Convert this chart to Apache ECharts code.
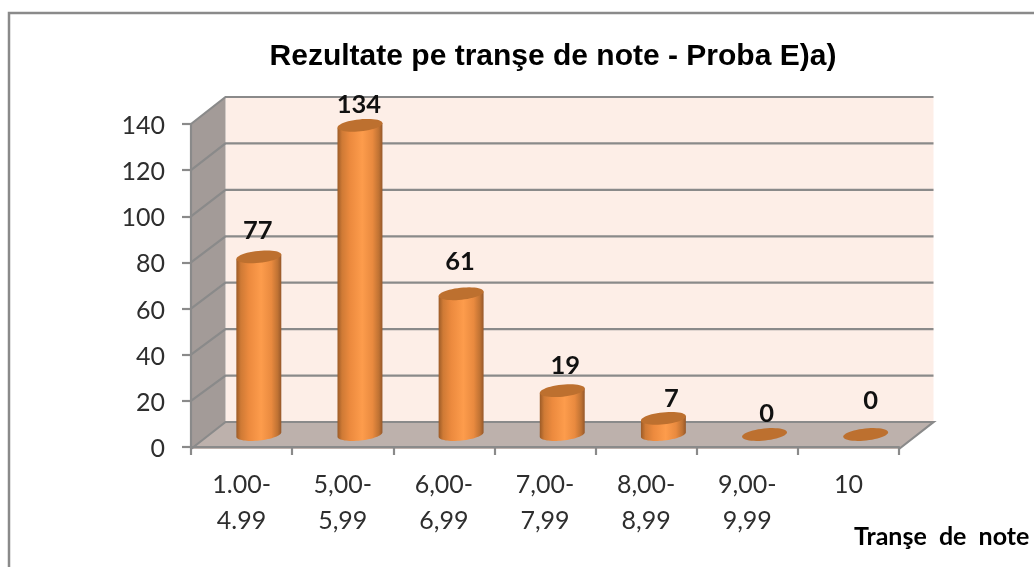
<!DOCTYPE html>
<html><head><meta charset="utf-8">
<style>html,body{margin:0;padding:0;background:#fff;overflow:hidden}#c{width:1034px;height:567px}</style>
<script src="https://cdn.jsdelivr.net/npm/echarts@6/dist/echarts.min.js"></script>
</head><body><div id="c"></div>
<script>
const categories = ['1.00-\n4.99','5,00-\n5,99','6,00-\n6,99','7,00-\n7,99','8,00-\n8,99','9,00-\n9,99','10'];
const counts = [77,134,61,19,7,0,0];
const yTicks = [0,20,40,60,80,100,120,140];
const titleText = 'Rezultate pe tranşe de note - Proba E)a)';
const xAxisTitle = 'Tranşe de note';

// Drawing style (hand-placed label nudges of the original, in pixels)
const labelLift = [26,21,32,25,20,21,34];
const labelShift = [-1,-1,-1,3,8,2,5];
const DX = 34.5, DY = -25, BACK_STRETCH = 2;   // depth of the fake 3D box
const GREY = '#8a8a8a';
const wide = s => s.replace(/ /g, '  ');

function tilted(cx, cy, a, b, t0, t1, n) {
  const th = -6 * Math.PI / 180, pts = [];
  for (let i = 0; i <= n; i++) {
    const t = t0 + (t1 - t0) * i / n;
    const x = a * Math.cos(t), y = b * Math.sin(t);
    pts.push([cx + x * Math.cos(th) - y * Math.sin(th), cy + x * Math.sin(th) + y * Math.cos(th)]);
  }
  return pts;
}

function renderWalls(params, api) {
  const band = api.size([1, 0])[0];
  const L = api.coord([0, 0])[0] - band / 2, R = api.coord([categories.length - 1, 0])[0] + band / 2;
  const y0 = api.coord([0, 0])[1], yT = api.coord([0, 140])[1];
  const poly = (points, fill) => ({type:'polygon', shape:{points}, style:{fill, stroke:null}});
  const top = yT + DY - BACK_STRETCH;
  return {type:'group', children:[
    poly([[L+DX,top],[R+DX,top],[R+DX,y0+DY],[L+DX,y0+DY]], '#fdeee7'),
    poly([[L,yT],[L+DX,top],[L+DX,y0+DY],[L,y0+2]], '#a39b98'),
    poly([[L,y0+2],[L+DX,y0+DY],[R+DX,y0+DY],[R,y0+2]], '#bdb1ac')
  ]};
}

function renderGrid(params, api) {
  const v = api.value(0);
  const band = api.size([1, 0])[0];
  const L = api.coord([0, 0])[0] - band / 2, R = api.coord([categories.length - 1, 0])[0] + band / 2;
  const y = api.coord([0, v])[1];
  const back = y + DY - BACK_STRETCH * v / 140;
  const st = {stroke:GREY, lineWidth:2.2, lineJoin:'miter'};
  const yy = v === 0 ? y + 2 : y;
  return {type:'polyline', shape:{points: v === 0 ? [[L,yy],[L+DX,back],[R+DX,back],[R,yy]] : [[L,yy],[L+DX,back],[R+DX,back]]}, style:{fill:null, ...st}};
}

function renderBars(params, api) {
  const i = api.value(0), v = api.value(1);
  const p = api.coord([i, v]), b = api.coord([i, 0]);
  const cx = p[0] + DX / 2, yTop = p[1] + DY / 2, yBot = b[1] + DY / 2;
  const a = 22.6, e = 6;
  const top = tilted(cx, yTop, a, e, 0, 2 * Math.PI, 48);
  const kids = [];
  if (v > 0) {
    const low = tilted(cx, yBot, a, e, 0, Math.PI, 32);
    const up = tilted(cx, yTop, a, e, Math.PI, 0, 1);
    kids.push({type:'polygon', shape:{points: low.concat(up)}, style:{
      stroke:null,
      fill:{type:'linear',x:0,y:0,x2:1,y2:0,colorStops:[
        {offset:0,color:'#9c5b27'},{offset:.1,color:'#cf7a35'},{offset:.28,color:'#ec8a3e'},
        {offset:.55,color:'#fd9c4c'},{offset:.78,color:'#e98a3f'},{offset:.92,color:'#bf7233'},{offset:1,color:'#96582a'}]}
    }});
  }
  kids.push({type:'polygon', shape:{points: top}, style:{fill:'#bd702f', stroke:null}});
  kids.push({type:'text', x: cx + labelShift[i], y: yTop - labelLift[i], style:{
    text: String(counts[i]), fontFamily:'Lato', fontWeight:'bold', fontSize:25.5, fill:'#111',
    align:'center', verticalAlign:'middle'}});
  return {type:'group', children:kids};
}

const chart = echarts.init(document.getElementById('c'), null, {renderer:'canvas'});
chart.setOption({
  animation:false,
  backgroundColor:'#fff',
  title:[
    {text:titleText, left:548, top:37, textAlign:'center', textStyle:{fontFamily:'Liberation Sans', fontWeight:'bold', fontSize:30, color:'#000'}},
    {text:wide(xAxisTitle), left:849, top:519, textStyle:{fontFamily:'Lato', fontWeight:'bold', fontSize:25, color:'#000'}}
  ],
  graphic:[{type:'rect', z:-10, shape:{x:9,y:13,width:1100,height:640}, style:{fill:'#fff', stroke:GREY, lineWidth:2.5}}],
  grid:{left:191, right:135, top:124, bottom:120, containLabel:false},
  xAxis:{type:'category', data:categories, offset:2, z:6,
    axisLine:{show:true, lineStyle:{color:GREY, width:2.2}},
    axisTick:{show:true, alignWithLabel:false, length:8, lineStyle:{color:GREY, width:2.2}},
    axisLabel:{interval:0, fontFamily:'Lato', fontSize:25, color:'#2e2e2e', margin:18, lineHeight:36}},
  yAxis:{type:'value', min:0, max:140, interval:20, z:6,
    axisLine:{show:true, lineStyle:{color:GREY, width:2.2}},
    axisTick:{show:true, length:9, lineStyle:{color:GREY, width:2.2}},
    splitLine:{show:false},
    axisLabel:{margin:26, formatter:'{n|{value}}',
      rich:{n:{fontFamily:'Lato', fontSize:25, color:'#2e2e2e', padding:[4,0,0,0]}}}},
  series:[
    {type:'custom', z:1, silent:true, clip:false, data:[[0,0]], encode:{x:0,y:1}, renderItem:renderWalls},
    {type:'custom', z:2, silent:true, clip:false, coordinateSystem:'cartesian2d', data:yTicks.map(v=>[v]), encode:{y:0}, renderItem:renderGrid},
    {type:'custom', z:3, silent:true, clip:false, data:counts.map((v,i)=>[i,v]), encode:{x:0,y:1}, renderItem:renderBars}
  ]
});
</script></body></html>
